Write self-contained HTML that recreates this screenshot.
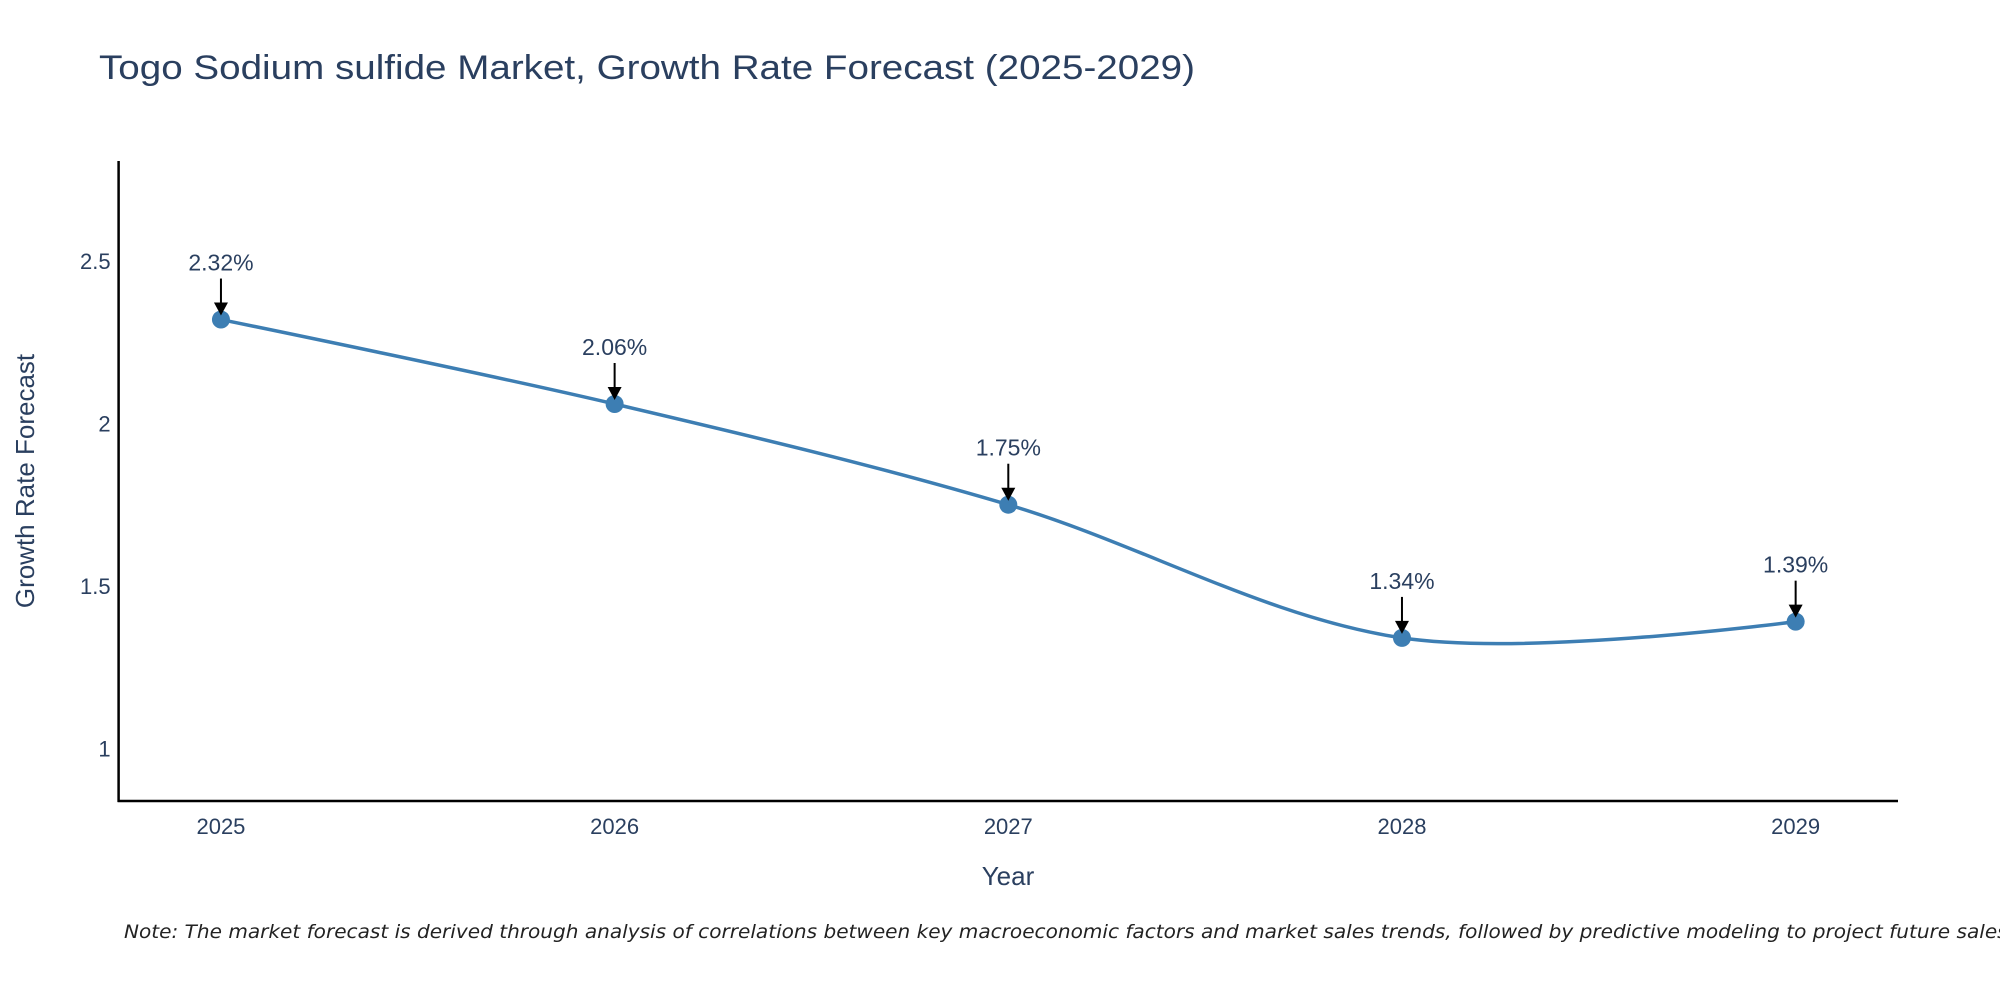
<!DOCTYPE html>
<html><head><meta charset="utf-8"><style>
body{margin:0;background:#fff;}
svg{display:block;font-family:"Liberation Sans",sans-serif;}
</style></head><body>
<svg id="chart" width="2000" height="1000">
<text x="99" y="79" font-size="34" fill="#2a3f5f" textLength="1096" lengthAdjust="spacingAndGlyphs">Togo Sodium sulfide Market, Growth Rate Forecast (2025-2029)</text>
<g id="plot"></g>
<text x="1008" y="885" font-size="26" fill="#2a3f5f" text-anchor="middle">Year</text>
<text transform="translate(34,481) rotate(-90)" font-size="26" fill="#2a3f5f" text-anchor="middle">Growth Rate Forecast</text>
<text x="124" y="938" font-size="19" font-style="italic" fill="#222" style="font-family:'DejaVu Sans',sans-serif" textLength="1890" lengthAdjust="spacingAndGlyphs">Note: The market forecast is derived through analysis of correlations between key macroeconomic factors and market sales trends, followed by predictive modeling to project future sales.</text>
</svg>
<script>
const years=[2025,2026,2027,2028,2029];
const values=[2.32,2.06,1.75,1.34,1.39];
const labels=["2.32%","2.06%","1.75%","1.34%","1.39%"];
const yTicks=[1,1.5,2,2.5];
const yTickLabels=["1","1.5","2","2.5"];
const NS="http://www.w3.org/2000/svg";
const L=118.6,R=1898,T=161,B=801;
const xmin=2024.74,xmax=2029.26,ymin=0.838,ymax=2.808;
const X=v=>L+(v-xmin)/(xmax-xmin)*(R-L);
const Y=v=>B-(v-ymin)/(ymax-ymin)*(B-T);
const g=document.getElementById('plot');
function mk(t,a){const el=document.createElementNS(NS,t);for(const k in a)el.setAttribute(k,a[k]);g.appendChild(el);return el;}
let e;
e=mk('line',{x1:L,y1:T,x2:L,y2:B+1,stroke:'#000','stroke-width':2.5});


e=mk('line',{x1:L-1,y1:B,x2:R,y2:B,stroke:'#000','stroke-width':2.5});


yTicks.forEach((t,i)=>{
 e=mk('text',{x:L-8,y:Y(t)+8,'font-size':22,fill:'#2a3f5f','text-anchor':'end'});
 e.textContent=yTickLabels[i];
 
 
});
years.forEach(y=>{
 e=mk('text',{x:X(y),y:834,'font-size':22,fill:'#2a3f5f','text-anchor':'middle'});
 e.textContent=String(y);
 
 
});
const pts=years.map((y,i)=>[X(y),Y(values[i])]);
const s=1;
const cp=[];
for(let i=1;i<pts.length-1;i++){
 const p0=pts[i-1],p1=pts[i],p2=pts[i+1];
 const d1=Math.hypot(p1[0]-p0[0],p1[1]-p0[1]),d2=Math.hypot(p2[0]-p1[0],p2[1]-p1[1]);
 const dx=(p2[0]-p0[0])/(d1+d2),dy=(p2[1]-p0[1])/(d1+d2);
 const k=s/3;
 cp[i]={a:[p1[0]-dx*d1*k,p1[1]-dy*d1*k],b:[p1[0]+dx*d2*k,p1[1]+dy*d2*k]};
}
let d='M'+pts[0][0]+','+pts[0][1];
for(let i=1;i<pts.length;i++){
 const c1=i===1?pts[0]:cp[i-1].b;
 const c2=i===pts.length-1?pts[i]:cp[i].a;
 d+=' C'+c1[0]+','+c1[1]+' '+c2[0]+','+c2[1]+' '+pts[i][0]+','+pts[i][1];
}
e=mk('path',{d:d,fill:'none',stroke:'#3d7eb3','stroke-width':3.5});


pts.forEach((p,i)=>{
 e=mk('circle',{cx:p[0],cy:p[1],r:9,fill:'#3d7eb3'});
 
 
 e=mk('line',{x1:p[0],y1:p[1]-41,x2:p[0],y2:p[1]-16,stroke:'#000','stroke-width':2});
 
 
 e=mk('polygon',{points:(p[0]-7)+','+(p[1]-17)+' '+(p[0]+7)+','+(p[1]-17)+' '+p[0]+','+(p[1]-4),fill:'#000'});
 
 
 e=mk('text',{x:p[0],y:p[1]-49,'font-size':23,fill:'#2a3f5f','text-anchor':'middle'});
 e.textContent=labels[i];
 
 
});
</script>
</body></html>
